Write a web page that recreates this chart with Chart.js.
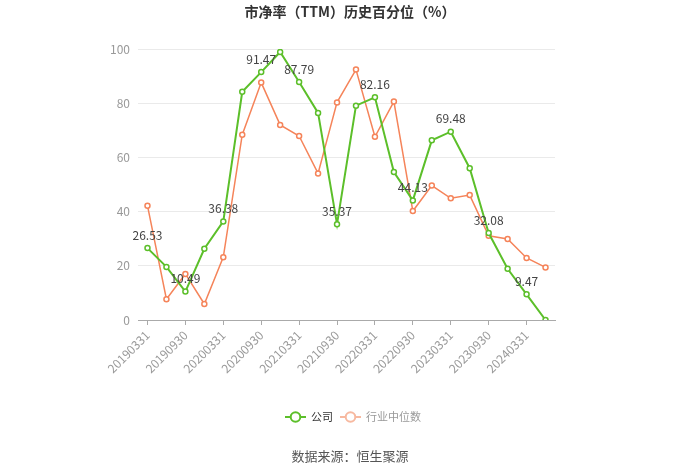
<!DOCTYPE html>
<html lang="zh">
<head>
<meta charset="UTF-8">
<title>市净率（TTM）历史百分位（%）</title>
<script src="https://cdn.jsdelivr.net/npm/chart.js@4.4.0/dist/chart.umd.min.js"></script>
<style>
  html, body { margin: 0; padding: 0; background: #fff; }
  #wrap { width: 700px; height: 473px; position: relative; }
</style>
</head>
<body>
<div id="wrap"><canvas id="pbChart"></canvas></div>
<script>
// 报告期
const dates = ['20190331','20190630','20190930','20191231','20200331','20200630','20200930','20201231',
  '20210331','20210630','20210930','20211231','20220331','20220630','20220930','20221231',
  '20230331','20230630','20230930','20231231','20240331','20240630'];
// 公司市净率历史百分位
const companyPct = [26.53, 19.6, 10.49, 26.3, 36.38, 84.2, 91.47, 98.9, 87.79, 76.4, 35.37, 79.1,
  82.16, 54.6, 44.13, 66.3, 69.48, 56.0, 32.08, 18.9, 9.47, 0];
// 行业中位数
const industryPct = [42.2, 7.7, 17.0, 5.9, 23.2, 68.4, 87.6, 72.0, 67.9, 54.1, 80.3, 92.4,
  67.6, 80.6, 40.2, 49.6, 44.9, 46.1, 31.1, 29.9, 22.9, 19.4];
const yTicks = [0, 20, 40, 60, 80, 100];

const GREEN = '#5cbf2a';
const ORANGE = '#f5845a';
const FONT = '"Noto Sans CJK SC", "Noto Sans", sans-serif';

// 图例：线 + 空心圆
function drawLegendItem(ctx, x, y, color, text, textColor) {
  ctx.strokeStyle = color;
  ctx.lineWidth = 2;
  ctx.beginPath(); ctx.moveTo(x, y); ctx.lineTo(x + 21, y); ctx.stroke();
  ctx.fillStyle = '#fff';
  ctx.beginPath(); ctx.arc(x + 10.5, y, 4.8, 0, Math.PI * 2); ctx.fill(); ctx.stroke();
  ctx.fillStyle = textColor;
  ctx.textAlign = 'left';
  ctx.fillText(text, x + 26, y);
}

// 标题、数据标签、图例、数据来源
const extras = {
  id: 'extras',
  afterDatasetsDraw(chart) {
    const ctx = chart.ctx;
    const meta = chart.getDatasetMeta(0);
    ctx.save();
    ctx.textBaseline = 'middle';
    ctx.textAlign = 'center';

    ctx.font = 'bold 14px ' + FONT;
    ctx.fillStyle = '#333';
    ctx.fillText('市净率（TTM）历史百分位（%）', 350, 12);

    ctx.font = '12px ' + FONT;
    ctx.fillStyle = '#444';
    meta.data.forEach((pt, i) => {
      if (i % 2 !== 0) return;
      ctx.fillText(companyPct[i].toFixed(2), pt.x, pt.y - 13);
    });

    ctx.font = '11px ' + FONT;
    drawLegendItem(ctx, 285, 417, GREEN, '公司', '#333');
    drawLegendItem(ctx, 340, 417, '#f7b9a0', '行业中位数', '#999');

    ctx.textAlign = 'center';
    ctx.font = '13px ' + FONT;
    ctx.fillStyle = '#555';
    ctx.fillText('数据来源：恒生聚源', 350, 456);
    ctx.restore();
  }
};

const ctx = document.getElementById('pbChart').getContext('2d');
new Chart(ctx, {
  type: 'line',
  data: {
    labels: dates,
    datasets: [{
      label: '公司',
      data: companyPct,
      borderColor: GREEN,
      backgroundColor: '#fff',
      borderWidth: 2,
      pointRadius: 2.5,
      pointBorderWidth: 1.5,
      pointBackgroundColor: '#fff',
      pointBorderColor: GREEN,
      tension: 0
    }, {
      label: '行业中位数',
      data: industryPct,
      borderColor: ORANGE,
      backgroundColor: '#fff',
      borderWidth: 1.5,
      pointRadius: 2.5,
      pointBorderWidth: 1.5,
      pointBackgroundColor: '#fff',
      pointBorderColor: ORANGE,
      tension: 0
    }]
  },
  options: {
    responsive: true,
    maintainAspectRatio: false,
    animation: false,
    layout: { padding: { left: 0, right: 145, top: 49, bottom: 93 } },
    plugins: {
      title: { display: false },
      legend: { display: false },
      tooltip: { enabled: false }
    },
    scales: {
      x: {
        offset: true,
        border: { color: '#aaa' },
        grid: {
          display: true,
          drawOnChartArea: false,
          drawTicks: true,
          tickLength: 5,
          tickColor: c => (c.index % 2 === 0 ? '#aaa' : 'rgba(0,0,0,0)')
        },
        ticks: {
          autoSkip: false,
          minRotation: 45,
          maxRotation: 45,
          color: '#999',
          font: { family: FONT, size: 12 },
          callback(v, i) { return i % 2 === 0 ? dates[i] : ''; }
        },
        afterFit(scale) { scale.height = 60; }
      },
      y: {
        min: 0,
        max: 100,
        afterBuildTicks(scale) { scale.ticks = yTicks.map(v => ({ value: v })); },
        border: { display: false },
        grid: { color: '#eaeaea', drawTicks: false },
        ticks: {
          color: '#999',
          padding: 8,
          font: { family: FONT, size: 12 }
        },
        afterFit(scale) { scale.width = 138; }
      }
    }
  },
  plugins: [extras]
});
</script>
</body>
</html>
